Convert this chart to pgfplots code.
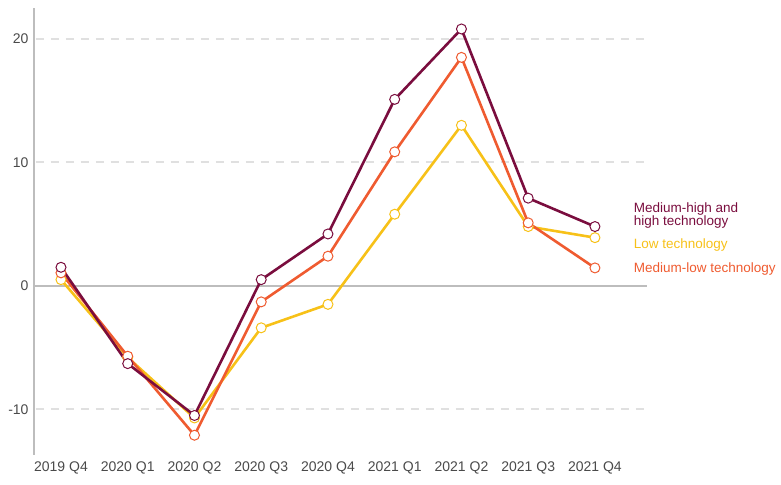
\documentclass[border=0pt]{standalone}
\usepackage{pgfplots}
\pgfplotsset{compat=1.18}
\usepackage{fontspec}
\setmainfont{Liberation Sans}
\definecolor{mhigh}{HTML}{7A0D3E}
\definecolor{lowt}{HTML}{F7C118}
\definecolor{mlow}{HTML}{EF5B30}
\definecolor{axgray}{HTML}{BDBDBD}
\definecolor{gridgray}{HTML}{E0E0E0}
\definecolor{txtgray}{HTML}{4A4A4A}
\begin{document}
\begin{tikzpicture}
\begin{axis}[
  scale only axis,
  width=613pt, height=447pt,
  xmin=-0.404, xmax=8.78,
  ymin=-13.7, ymax=22.5,
  axis x line=none,
  axis y line*=left,
  axis line style={axgray, line width=2.2pt, -},
  xtick={0,1,2,3,4,5,6,7,8},
  xticklabels={},
  ytick={-10,0,10,20},
  yticklabels={-10,0,10,20},
  major tick length=0pt,
  tick label style={font=\fontsize{14}{16}\selectfont, text=txtgray},
  /pgf/number format/assume math mode=true,
  yticklabel style={xshift=-2pt},
  clip=false,
]
% gridlines and zero line
\addplot[gridgray, line width=1.8pt, dash pattern=on 8pt off 7pt, forget plot] coordinates {(-0.38,10) (8.75,10)};
\addplot[gridgray, line width=1.8pt, dash pattern=on 8pt off 7pt, forget plot] coordinates {(-0.38,20) (8.75,20)};
\addplot[gridgray, line width=1.8pt, dash pattern=on 8pt off 7pt, forget plot] coordinates {(-0.38,-10) (8.75,-10)};
\addplot[axgray, line width=2.2pt, forget plot] coordinates {(-0.404,0) (8.78,0)};
% x tick labels as nodes along the bottom
\foreach \i/\lab in {0/2019 Q4,1/2020 Q1,2/2020 Q2,3/2020 Q3,4/2020 Q4,5/2021 Q1,6/2021 Q2,7/2021 Q3,8/2021 Q4}{
  \edef\tmp{\noexpand\node[anchor=north, font=\noexpand\fontsize{14}{16}\noexpand\selectfont, text=txtgray] at (axis cs:\i,-13.7) [yshift=-3pt] {\lab};}
  \tmp
}
% Low technology
\addplot[lowt, line width=2.6pt, mark=*, mark size=5pt, mark options={fill=white, draw=lowt, line width=1pt}] coordinates {
(0,0.5) (1,-5.8) (2,-10.7) (3,-3.4) (4,-1.5) (5,5.8) (6,13.0) (7,4.8) (8,3.9)};
% Medium-low technology
\addplot[mlow, line width=2.6pt, mark=*, mark size=5pt, mark options={fill=white, draw=mlow, line width=1pt}] coordinates {
(0,1.05) (1,-5.7) (2,-12.1) (3,-1.3) (4,2.4) (5,10.85) (6,18.5) (7,5.1) (8,1.45)};
% Medium-high and high technology
\addplot[mhigh, line width=2.6pt, mark=*, mark size=5pt, mark options={fill=white, draw=mhigh, line width=1pt}] coordinates {
(0,1.5) (1,-6.3) (2,-10.5) (3,0.5) (4,4.2) (5,15.1) (6,20.8) (7,7.1) (8,4.8)};
% legend labels
\node[anchor=west, align=left, text=mhigh, font=\fontsize{13.5}{13.5}\selectfont, inner xsep=0pt] at (axis cs:8.58,5.7) {Medium-high and\\high technology};
\node[anchor=west, text=lowt, font=\fontsize{13.5}{14}\selectfont, inner xsep=0pt] at (axis cs:8.58,3.3) {Low technology};
\node[anchor=west, text=mlow, font=\fontsize{13.5}{14}\selectfont, inner xsep=0pt] at (axis cs:8.58,1.35) {Medium-low technology};
% bounding box
\path (rel axis cs:-0.0555,-0.0671) rectangle (rel axis cs:1.2186,1.0179);
\end{axis}
\end{tikzpicture}
\end{document}
